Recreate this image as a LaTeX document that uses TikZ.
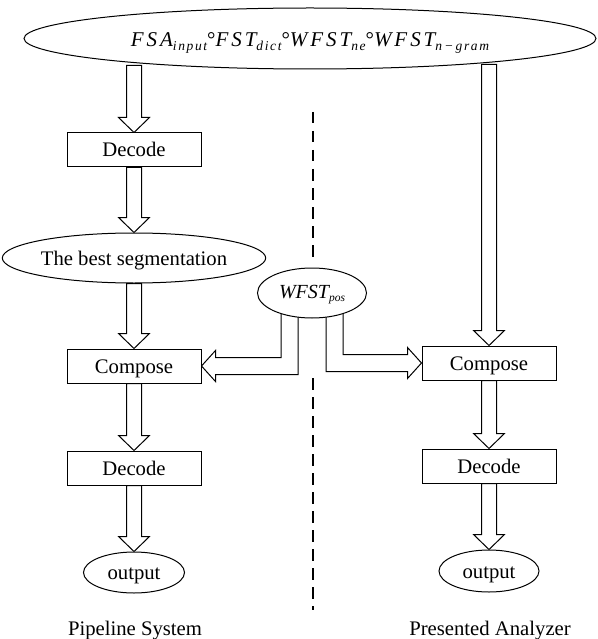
\documentclass[tikz,border=0pt]{standalone}
\usepackage{fontspec}
\setmainfont{Liberation Serif}
\newfontfamily\spit[LetterSpace=14]{Liberation Serif}
\newfontfamily\subit[LetterSpace=12]{Liberation Serif}
\usetikzlibrary{shapes.geometric,calc}
\pgfdeclarelayer{bg}
\pgfsetlayers{bg,main}
\newcommand\mainpart[1]{{\fontsize{21}{24}\selectfont\spit\itshape #1}}
\newcommand\subpart[1]{\raisebox{-3.5pt}{\fontsize{13.5}{15}\selectfont\subit\itshape #1}}
\newcommand\compo{{\fontsize{21}{24}\selectfont\upshape °}}
\newcommand\vblock[2]{\draw[blk] let \p1=#1, \p2=#2 in
  (\x1-7.5pt,\y1) -- (\x1-7.5pt,\y2+15pt) -- (\x1-15.5pt,\y2+15pt) -- (\x1,\y2)
  -- (\x1+15.5pt,\y2+15pt) -- (\x1+7.5pt,\y2+15pt) -- (\x1+7.5pt,\y1) -- cycle;}
\tikzset{
  every node/.style={font=\fontsize{20.7}{24}\selectfont, text height=14pt, text depth=0pt, inner sep=0pt},
  box/.style={draw, line width=1pt, minimum width=134pt, minimum height=34pt, fill=white},
  oval/.style={draw, ellipse, line width=1pt, fill=white},
  blk/.style={draw, line width=1pt, fill=white, line join=miter},
  divider/.style={line width=1.3pt, dash pattern=on 11.5pt off 7.5pt},
}
\begin{document}
\begin{tikzpicture}[x=1pt, y=-1pt]
\useasboundingbox (0,0) rectangle (597,639);
% nodes
\node[oval, minimum width=572pt, minimum height=61pt, text height=17pt] (top) at (310,38.5)
  {\mainpart{FSA}\subpart{input}\compo\mainpart{FST}\subpart{dict}\compo\mainpart{WFST}\subpart{ne}\compo\mainpart{WFST}\subpart{n\,−\,gram}};
\node[box] (dec1) at (134,150) {Decode};
\node[oval, minimum width=212pt, minimum height=50pt] (best) at (134,258) {The best segmentation};
\node[box] (comp1) at (134,366) {Compose};
\node[box] (dec2) at (134,468) {Decode};
\node[oval, minimum width=101pt, minimum height=41pt] (out1) at (134,572.5) {output};
\node[oval, minimum width=109pt, minimum height=50pt, text height=12pt, text depth=2pt] (pos) at (312,293)
  {{\fontsize{20}{22}\selectfont\itshape WFST}\raisebox{-3pt}{\fontsize{11.5}{13}\selectfont\itshape pos}};
\node[box] (comp2) at (489,363) {Compose};
\node[box] (dec3) at (489,466) {Decode};
\node[oval, minimum width=100pt, minimum height=42pt] (out2) at (489,571) {output};
\node (lab1) at (135,628.5) {Pipeline System};
\node (lab2) at (490,628.5) {Presented Analyzer};
% dashed divider
\coordinate (d1) at (313,112);
\coordinate (d2) at (313,264);
\coordinate (d3) at (313,378);
\coordinate (d4) at (313,610);
\draw[divider] (d1) -- (d2);
\draw[divider] (d3) -- (d4);
% block arrows
\begin{pgfonlayer}{bg}
\vblock{($(dec1.north |- top.south)+(0,-4)$)}{(dec1.north)}
\vblock{(dec1.south)}{(best.north)}
\vblock{(best.south)}{(comp1.north)}
\vblock{(comp1.south)}{(dec2.north)}
\vblock{(dec2.south)}{(out1.north)}
\vblock{($(comp2.north |- top.south)+(0,-5)$)}{(comp2.north)}
\vblock{(comp2.south)}{(dec3.north)}
\vblock{(dec3.south)}{(out2.north)}
\draw[blk] let \p1=(pos.center), \p2=(comp1.east) in
  (\x1-31pt,\y1) -- (\x1-31pt,\y2+8.5pt) -- (\x2+14pt,\y2+8.5pt) -- (\x2+14pt,\y2+15.5pt)
  -- (\x2,\y2) -- (\x2+14pt,\y2-15.5pt) -- (\x2+14pt,\y2-8.5pt) -- (\x1-14pt,\y2-8.5pt)
  -- (\x1-14pt,\y1) -- cycle;
\draw[blk] let \p1=(pos.center), \p2=(comp2.west) in
  (\x1+14pt,\y1) -- (\x1+14pt,\y2-8.5pt) -- (\x2-14pt,\y2-8.5pt) -- (\x2-14pt,\y2-15.5pt)
  -- (\x2,\y2) -- (\x2-14pt,\y2+15.5pt) -- (\x2-14pt,\y2+8.5pt) -- (\x1+31pt,\y2+8.5pt)
  -- (\x1+31pt,\y1) -- cycle;
\end{pgfonlayer}
\end{tikzpicture}
\end{document}
